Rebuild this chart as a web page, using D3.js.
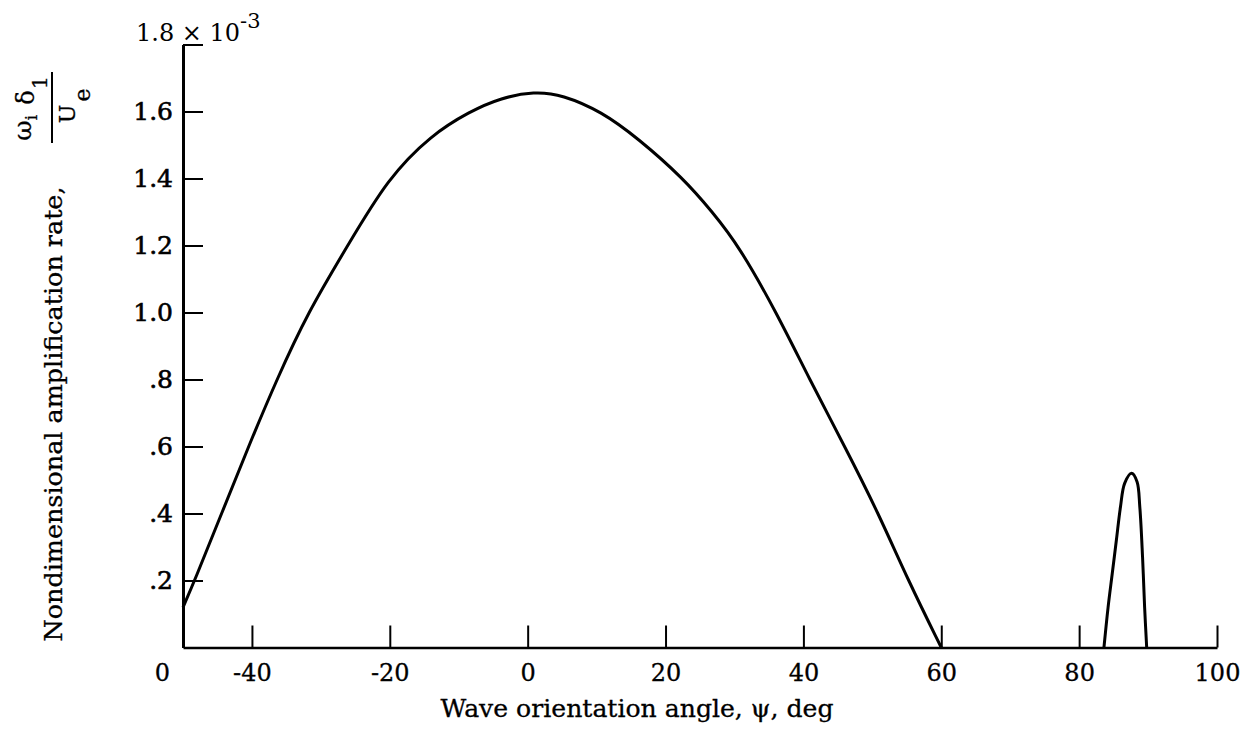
<!DOCTYPE html>
<html>
<head>
<meta charset="utf-8">
<script src="https://cdn.jsdelivr.net/npm/d3@7"></script>
<style>
  html, body { margin: 0; padding: 0; background: #fff; }
  svg { display: block; }
  text { font-family: "DejaVu Serif", serif; fill: #000; }
</style>
</head>
<body>
<svg id="chart" width="1248" height="743"></svg>
<script>
// Amplification rate (units of 1e-3) against wave orientation angle psi (deg)
const mainAngle = [-50, -48.3, -44.4, -40.5, -36.4, -31.9, -26.1, -20.3, -14.0, -8.4, -4.0, 1.0,
                   5.0, 10.7, 16.0, 22.6, 26.8, 30.6, 36.1, 40.9, 46.0, 50.9, 55.2, 60];
const mainRate  = [0.12, 0.20, 0.40, 0.60, 0.80, 1.00, 1.20, 1.40, 1.53, 1.60, 1.64, 1.66,
                   1.65, 1.60, 1.52, 1.40, 1.30, 1.20, 1.00, 0.80, 0.60, 0.40, 0.20, 0];

const lobeAngle = [83.6, 84.2, 84.8, 85.4, 86.0, 86.6, 87.6, 88.4, 88.8, 89.2, 89.5, 89.8];
const lobeRate  = [0, 0.12, 0.22, 0.32, 0.42, 0.49, 0.52, 0.495, 0.42, 0.27, 0.12, 0];

const xTickValues = [-40, -20, 0, 20, 40, 60, 80, 100];
const xTickLabels = ["-40", "-20", "0", "20", "40", "60", "80", "100"];
const yTickValues = [0.2, 0.4, 0.6, 0.8, 1.0, 1.2, 1.4, 1.6, 1.8];
const yTickLabels = [".2", ".4", ".6", ".8", "1.0", "1.2", "1.4", "1.6", ""];

const xTitle = "Wave orientation angle, \u03C8, deg";
const yTitle = "Nondimensional amplification rate,";

const svg = d3.select("#chart");

const x = d3.scaleLinear().domain([-50, 100]).range([183, 1217]);
const y = d3.scaleLinear().domain([0, 1.8]).range([647.5, 44.5]);

// X axis: ticks point up into the plot
const xAxis = d3.axisBottom(x)
  .tickValues(xTickValues)
  .tickSizeInner(-22)
  .tickSizeOuter(0)
  .tickFormat((d, i) => xTickLabels[i]);

const gx = svg.append("g")
  .attr("transform", `translate(0,${y(0)})`)
  .call(xAxis);
gx.select(".domain").attr("stroke", "#000").attr("stroke-width", 2.5);
gx.selectAll(".tick line").attr("stroke", "#000").attr("stroke-width", 2);
gx.selectAll(".tick text")
  .attr("y", 33).attr("dy", null)
  .attr("font-size", 24).attr("font-family", "DejaVu Serif").attr("fill", "#000")
  .attr("stroke", "#000").attr("stroke-width", 0.3);

// Y axis: ticks point right into the plot
const yAxis = d3.axisLeft(y)
  .tickValues(yTickValues)
  .tickSizeInner(-20)
  .tickSizeOuter(0)
  .tickPadding(10)
  .tickFormat((d, i) => yTickLabels[i]);

const gy = svg.append("g")
  .attr("transform", `translate(${x(-50)},0)`)
  .call(yAxis);
gy.select(".domain").attr("stroke", "#000").attr("stroke-width", 3);
gy.selectAll(".tick line").attr("stroke", "#000").attr("stroke-width", 2);
gy.selectAll(".tick text")
  .attr("font-size", 25).attr("font-family", "DejaVu Serif").attr("fill", "#000")
  .attr("stroke", "#000").attr("stroke-width", 0.6);

// Origin label
svg.append("text")
  .attr("x", 162.5).attr("y", y(0) + 33)
  .attr("text-anchor", "middle").attr("font-size", 24)
  .attr("stroke", "#000").attr("stroke-width", 0.3)
  .text("0");

// Top label with the scale factor
const topLbl = svg.append("text")
  .attr("x", 136).attr("y", 41)
  .attr("font-size", 24);
topLbl.append("tspan").text("1.8 \u00D7 10");
topLbl.append("tspan").attr("dy", -13).attr("font-size", 21).text("-3");

// Curves
const smoothLine = d3.line()
  .x(d => x(d[0]))
  .y(d => y(d[1]))
  .curve(d3.curveBasis);

const peakLine = d3.line()
  .x(d => x(d[0]))
  .y(d => y(d[1]))
  .curve(d3.curveCatmullRom.alpha(0.5));

svg.append("path")
  .datum(d3.zip(mainAngle, mainRate))
  .attr("d", smoothLine)
  .attr("fill", "none").attr("stroke", "#000")
  .attr("stroke-width", 3).attr("stroke-linejoin", "round");

svg.append("path")
  .datum(d3.zip(lobeAngle, lobeRate))
  .attr("d", peakLine)
  .attr("fill", "none").attr("stroke", "#000")
  .attr("stroke-width", 3).attr("stroke-linejoin", "round");

// X axis title
svg.append("text")
  .attr("x", 637).attr("y", 717)
  .attr("text-anchor", "middle").attr("font-size", 24)
  .attr("textLength", 393).attr("lengthAdjust", "spacingAndGlyphs")
  .attr("stroke", "#000").attr("stroke-width", 0.3)
  .text(xTitle);

// Y axis title (rotated)
svg.append("text")
  .attr("transform", "translate(62,414) rotate(-90)")
  .attr("text-anchor", "middle").attr("font-size", 25)
  .attr("textLength", 455).attr("lengthAdjust", "spacingAndGlyphs")
  .attr("stroke", "#000").attr("stroke-width", 0.3)
  .text(yTitle);

// Fraction symbol  omega_i delta_1 / U_e, written along the rotated axis
const frac = svg.append("g").attr("transform", "translate(52,108) rotate(-90)");
frac.append("line")
  .attr("x1", -35).attr("x2", 36).attr("y1", 0).attr("y2", 0)
  .attr("stroke", "#000").attr("stroke-width", 2);
const glyphs = [
  { t: "\u03C9", u: -22.5, v: -21, fs: 25 },
  { t: "i",      u: -9.5,  v: -15, fs: 17 },
  { t: "\u03B4", u: 10.5,  v: -18, fs: 24 },
  { t: "1",      u: 25.5,  v: -5,  fs: 21 },
  { t: "U",      u: -6,    v: 23,  fs: 22 },
  { t: "e",      u: 13,    v: 38,  fs: 22 }
];
frac.selectAll("text.g")
  .data(glyphs)
  .join("text")
  .attr("class", "g")
  .attr("x", d => d.u).attr("y", d => d.v)
  .attr("text-anchor", "middle")
  .attr("font-size", d => d.fs)
  .attr("stroke", "#000").attr("stroke-width", 0.3)
  .text(d => d.t);
</script>
</body>
</html>
